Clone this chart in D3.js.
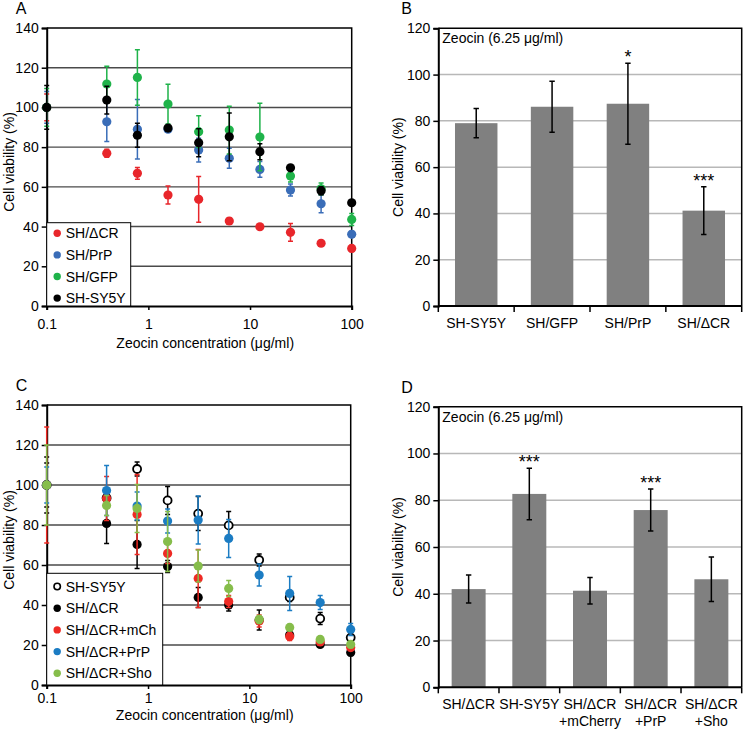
<!DOCTYPE html>
<html>
<head>
<meta charset="utf-8">
<script src="https://cdn.jsdelivr.net/npm/d3@7"></script>
<style>
body { margin: 0; background: #fff; }
text { font-family: "Liberation Sans", Arimo, sans-serif; fill: #000; }
</style>
</head>
<body>
<div id="chart"></div>
<script>
// concentrations (ug/ml); untreated control is drawn at 0.1
var conc = [0.1, 0.39, 0.78, 1.56, 3.125, 6.25, 12.5, 25, 50, 100];

// panel A
var meanA_dCR = [100, 76.9, 66.8, 55.9, 53.7, 42.8, 39.9, 37.1, 31.6, 29];
var errA_dCR = [6.7, 2, 3, 4.5, 11.5, 1.5, 1, 4.5, 1, 1.5];
var meanA_PrP = [100, 92.8, 89, 89, 78.5, 74.4, 68.8, 58.4, 51.5, 36.1];
var errA_PrP = [8, 10, 15, 1, 6, 5, 4, 3, 4.5, 1.5];
var meanA_GFP = [100, 111.8, 115.1, 101.7, 87.8, 88.6, 85.1, 65.5, 59, 43.6];
var errA_GFP = [9.5, 9, 14, 10, 8, 12, 17, 3, 3, 3];
var meanA_SY5Y = [100, 103.7, 86, 89.6, 82.2, 85.2, 77.7, 69.6, 58, 52];
var errA_SY5Y = [11, 7, 6, 1, 7, 12, 4, 1.5, 2, 1];

// panel C
var meanC_SY5Y = [100, 93.5, 108, 92.3, 85.7, 79.8, 62.5, 43.8, 33.2, 23.7];
var errC_SY5Y = [11, 5, 3.5, 7, 8.5, 7, 3, 2, 3, 1.5];
var meanC_dCR = [100, 80.8, 70.3, 59.2, 43.8, 40, 32.5, 25, 20.3, 16.3];
var errC_dCR = [14, 10, 12, 3, 5, 3, 5, 1.5, 1, 1.5];
var meanC_mCh = [100, 93.3, 85.3, 65.8, 53.3, 41.7, 32, 24.2, 21.5, 18.7];
var errC_mCh = [29, 11, 20, 5, 14.5, 3, 3, 2, 1, 1.5];
var meanC_PrP = [100, 97.2, 89.5, 82, 82.5, 73.3, 55, 45.8, 41.2, 27.8];
var errC_PrP = [9, 12.5, 7, 6, 12, 9.5, 5.5, 8.5, 3.5, 3];
var meanC_Sho = [100, 89.8, 88.3, 71.7, 59.5, 48.3, 32.8, 28.8, 22.8, 20.3];
var errC_Sho = [20, 5, 12, 15, 8, 4, 2, 1.5, 1.5, 1.5];

// panel B
var catB = [["SH-SY5Y"], ["SH/GFP"], ["SH/PrP"], ["SH/ΔCR"]];
var valB = [79, 86.1, 87.4, 41.2];
var errB = [6.3, 11, 17.5, 10.3];
var sigB = ["", "", "*", "***"];

// panel D
var catD = [["SH/ΔCR"], ["SH-SY5Y"], ["SH/ΔCR", "+mCherry"], ["SH/ΔCR", "+PrP"], ["SH/ΔCR", "+Sho"]];
var valD = [42, 82.7, 41.3, 75.8, 46.2];
var errD = [6, 11, 5.7, 9, 9.5];
var sigD = ["", "***", "", "***", ""];

var xTicks = [0.1, 1, 10, 100];
var xTitle = "Zeocin concentration (μg/ml)";
var yTitle = "Cell viability (%)";
var note = "Zeocin (6.25 μg/ml)";
var FONT = "'Liberation Sans', Arimo, sans-serif";

var svg = d3.select("#chart").append("svg")
	.attr("width", 745)
	.attr("height", 729);

function scatterPanel(p) {
	var g = svg.append("g");
	var x = d3.scaleLog().domain([0.1, 100]).range([p.left, p.right]);
	var y = d3.scaleLinear().domain([0, 140]).range([p.bottom, p.top]);

	// gridlines
	g.selectAll(".grid").data([20, 40, 60, 80, 100, 120]).enter().append("line")
		.attr("x1", p.left).attr("x2", p.right)
		.attr("y1", function(d) { return y(d); })
		.attr("y2", function(d) { return y(d); })
		.attr("stroke", "#4a4a4a").attr("stroke-width", 1.4);

	// frame top/right
	g.append("path")
		.attr("d", "M" + p.left + "," + y(140) + "H" + p.right + "V" + p.bottom)
		.attr("fill", "none").attr("stroke", "#000").attr("stroke-width", 1.5);

	var yAxis = g.append("g")
		.attr("transform", "translate(" + p.left + ",0)")
		.call(d3.axisLeft(y).tickValues(d3.range(0, 141, 20)).tickSize(5).tickPadding(3));
	var xAxis = g.append("g")
		.attr("transform", "translate(0," + p.bottom + ")")
		.call(d3.axisBottom(x).tickValues(xTicks).tickFormat(d3.format("")).tickSize(4).tickPadding(p.tickPad));
	[yAxis, xAxis].forEach(function(a) {
		a.attr("font-family", null).attr("font-size", null);
		a.select(".domain").attr("stroke-width", 2);
		a.selectAll(".tick line").attr("stroke-width", 1.5);
		a.selectAll("text").style("font-size", "14px").style("font-family", FONT);
	});

	// series
	p.series.forEach(function(s) {
		var pts = conc.map(function(c, i) { return { c: c, m: s.mean[i], e: s.err[i] }; });
		var sg = g.append("g");
		sg.selectAll(".eb").data(pts).enter().append("path")
			.attr("d", function(d) {
				var cx = x(d.c), t = y(d.m + d.e), b = y(d.m - d.e);
				return "M" + cx + "," + t + "V" + b + "M" + (cx - 2.5) + "," + t + "h5M" + (cx - 2.5) + "," + b + "h5";
			})
			.attr("fill", "none").attr("stroke", s.color).attr("stroke-width", 1.5);
		sg.selectAll("circle").data(pts).enter().append("circle")
			.attr("cx", function(d) { return x(d.c); })
			.attr("cy", function(d) { return y(d.m); })
			.attr("r", s.open ? 4 : 4.6)
			.attr("fill", s.open ? "#fff" : s.color)
			.attr("stroke", s.color)
			.attr("stroke-width", s.open ? 1.8 : 0);
	});

	// legend
	var lg = g.append("g");
	lg.append("rect")
		.attr("x", p.left).attr("y", p.legTop)
		.attr("width", p.legW).attr("height", p.bottom - p.legTop)
		.attr("fill", "#fff").attr("stroke", "#000").attr("stroke-width", 1);
	p.legendOrder.forEach(function(s, i) {
		var cy = p.legFirst + i * p.legStep;
		lg.append("circle")
			.attr("cx", p.left + 10.5).attr("cy", cy)
			.attr("r", s.open ? 3.2 : 3.7)
			.attr("fill", s.open ? "#fff" : s.color)
			.attr("stroke", s.color).attr("stroke-width", s.open ? 1.6 : 0);
		lg.append("text")
			.attr("x", p.left + 19).attr("y", cy + 5)
			.style("font-size", "14px")
			.text(s.name);
	});

	g.append("text")
		.attr("x", (p.left + p.right) / 2 + 6).attr("y", p.bottom + p.titleOff)
		.attr("text-anchor", "middle").style("font-size", "14px")
		.text(xTitle);
	g.append("text")
		.attr("transform", "translate(" + (p.left - 33) + "," + ((p.top + p.bottom) / 2 - 5) + ") rotate(-90)")
		.attr("text-anchor", "middle").style("font-size", "14px")
		.text(yTitle);
	g.append("text")
		.attr("x", p.left - 31).attr("y", p.top - 14)
		.style("font-size", "16px")
		.text(p.letter);
}

function barPanel(p) {
	var g = svg.append("g");
	var x = d3.scaleBand().domain(d3.range(p.cats.length)).range([p.left, p.right]).paddingInner(0.44).paddingOuter(0.22);
	var y = d3.scaleLinear().domain([0, 120]).range([p.bottom, p.top]);

	g.selectAll(".grid").data([20, 40, 60, 80, 100]).enter().append("line")
		.attr("x1", p.left).attr("x2", p.right)
		.attr("y1", function(d) { return y(d); })
		.attr("y2", function(d) { return y(d); })
		.attr("stroke", "#b8b8b8").attr("stroke-width", 1.5);

	g.append("path")
		.attr("d", "M" + p.left + "," + y(120) + "H" + p.right + "V" + p.bottom)
		.attr("fill", "none").attr("stroke", "#000").attr("stroke-width", 1.5);

	var data = p.vals.map(function(v, i) { return { i: i, v: v, e: p.errs[i], s: p.sig[i] }; });

	g.selectAll(".bar").data(data).enter().append("rect")
		.attr("x", function(d) { return x(d.i); })
		.attr("width", x.bandwidth())
		.attr("y", function(d) { return y(d.v); })
		.attr("height", function(d) { return p.bottom - y(d.v); })
		.attr("fill", "#808080");

	g.selectAll(".eb").data(data).enter().append("path")
		.attr("d", function(d) {
			var cx = x(d.i) + x.bandwidth() / 2, t = y(d.v + d.e), b = y(d.v - d.e);
			return "M" + cx + "," + t + "V" + b + "M" + (cx - 2.7) + "," + t + "h5.4M" + (cx - 2.7) + "," + b + "h5.4";
		})
		.attr("fill", "none").attr("stroke", "#000").attr("stroke-width", 1.5);

	g.selectAll(".sig").data(data).enter().append("text")
		.attr("x", function(d) { return x(d.i) + x.bandwidth() / 2; })
		.attr("y", function(d) { return y(d.v + d.e); })
		.attr("text-anchor", "middle").style("font-size", "18px")
		.text(function(d) { return d.s; });

	var yAxis = g.append("g")
		.attr("transform", "translate(" + p.left + ",0)")
		.call(d3.axisLeft(y).tickValues(d3.range(0, 121, 20)).tickSize(5).tickPadding(3));
	yAxis.attr("font-family", null).attr("font-size", null);
	yAxis.select(".domain").attr("stroke-width", 2);
	yAxis.selectAll(".tick line").attr("stroke-width", 1.5);
	yAxis.selectAll("text").style("font-size", "14px").style("font-family", FONT);

	// x axis with ticks at band edges
	var edges = d3.range(p.cats.length + 1).map(function(i) { return p.left + i * (p.right - p.left) / p.cats.length; });
	g.append("line")
		.attr("x1", p.left).attr("x2", p.right)
		.attr("y1", p.bottom).attr("y2", p.bottom)
		.attr("stroke", "#000").attr("stroke-width", 2);
	g.selectAll(".xt").data(edges).enter().append("line")
		.attr("x1", function(d) { return d; }).attr("x2", function(d) { return d; })
		.attr("y1", p.bottom).attr("y2", p.bottom + 6)
		.attr("stroke", "#000").attr("stroke-width", 1.5);
	p.cats.forEach(function(lines, i) {
		var t = g.append("text")
			.attr("x", x(i) + x.bandwidth() / 2)
			.attr("y", p.bottom + 22)
			.attr("text-anchor", "middle").style("font-size", "14px");
		lines.forEach(function(l, k) {
			t.append("tspan").attr("x", x(i) + x.bandwidth() / 2).attr("dy", k === 0 ? 0 : 17).text(l);
		});
	});

	g.append("text")
		.attr("x", p.left + 4).attr("y", p.top + 15)
		.style("font-size", "14px")
		.text(note);
	g.append("text")
		.attr("transform", "translate(" + (p.left - 35) + "," + ((p.top + p.bottom) / 2) + ") rotate(-90)")
		.attr("text-anchor", "middle").style("font-size", "14px")
		.text(yTitle);
	g.append("text")
		.attr("x", p.left - 37).attr("y", p.top - 14)
		.style("font-size", "16px")
		.text(p.letter);
}

var sA = [
	{ name: "SH/ΔCR", color: "#e8262b", mean: meanA_dCR, err: errA_dCR },
	{ name: "SH/PrP", color: "#3a6db8", mean: meanA_PrP, err: errA_PrP },
	{ name: "SH/GFP", color: "#1fb34a", mean: meanA_GFP, err: errA_GFP },
	{ name: "SH-SY5Y", color: "#000000", mean: meanA_SY5Y, err: errA_SY5Y }
];
scatterPanel({
	letter: "A", left: 46.7, right: 351.7, top: 28, bottom: 306,
	tickPad: 9, titleOff: 42,
	series: sA, legendOrder: sA,
	legTop: 222.7, legW: 84, legFirst: 233.3, legStep: 21.6
});

var sC_open = { name: "SH-SY5Y", color: "#000000", open: true, mean: meanC_SY5Y, err: errC_SY5Y };
var sC_dCR = { name: "SH/ΔCR", color: "#000000", mean: meanC_dCR, err: errC_dCR };
var sC_mCh = { name: "SH/ΔCR+mCh", color: "#ee2a24", mean: meanC_mCh, err: errC_mCh };
var sC_PrP = { name: "SH/ΔCR+PrP", color: "#1b7cc3", mean: meanC_PrP, err: errC_PrP };
var sC_Sho = { name: "SH/ΔCR+Sho", color: "#86bd4b", mean: meanC_Sho, err: errC_Sho };
scatterPanel({
	letter: "C", left: 46.7, right: 350.7, top: 405, bottom: 685,
	tickPad: 4, titleOff: 35,
	series: [sC_open, sC_dCR, sC_mCh, sC_PrP, sC_Sho],
	legendOrder: [sC_open, sC_dCR, sC_mCh, sC_PrP, sC_Sho],
	legTop: 573.3, legW: 116, legFirst: 586.5, legStep: 21.7
});

barPanel({
	letter: "B", left: 438.3, right: 741.7, top: 28.3, bottom: 306,
	cats: catB, vals: valB, errs: errB, sig: sigB
});
barPanel({
	letter: "D", left: 438.3, right: 741.7, top: 406.7, bottom: 687.3,
	cats: catD, vals: valD, errs: errD, sig: sigD
});
</script>
</body>
</html>
